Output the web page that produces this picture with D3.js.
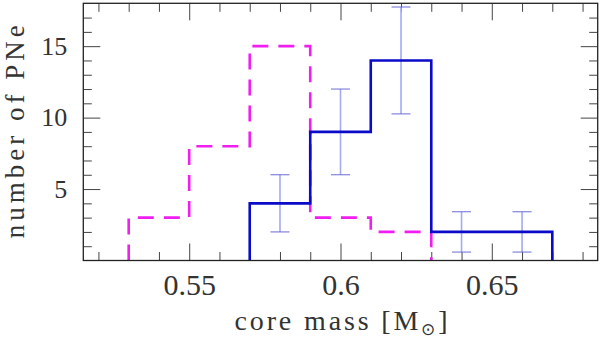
<!DOCTYPE html>
<html lang="en">
<head>
  <meta charset="UTF-8">
  <title>core mass histogram</title>
  <script src="https://d3js.org/d3.v7.min.js"></script>
  <style>
    body { margin: 0; padding: 0; background: #fff; }
    svg { display: block; }
    text { font-family: "Liberation Serif", "Times New Roman", serif; fill: #333; }
    .tick line { stroke: #444; stroke-width: 1; }
  </style>
</head>
<body>
  <svg width="600" height="339"></svg>
  <script>
    // === data ===
    const magentaEdges = [0.53, 0.55, 0.57, 0.59, 0.61, 0.63];
    const magentaCounts = [3, 8, 15, 3, 2];

    const blueEdges = [0.57, 0.59, 0.61, 0.63, 0.65, 0.67];
    const blueCounts = [4, 9, 14, 2, 2];

    const errX = [0.58, 0.60, 0.62, 0.64, 0.66];
    const errLow = [2, 6, 10.26, 0.59, 0.59];
    const errHigh = [6, 12, 17.74, 3.41, 3.41];

    const xMajor = [0.55, 0.6, 0.65];
    const xMajorLabels = ["0.55", "0.6", "0.65"];
    const xMinor = [0.52, 0.53, 0.54, 0.56, 0.57, 0.58, 0.59, 0.61, 0.62, 0.63, 0.64, 0.66, 0.67, 0.68];
    const yMajor = [5, 10, 15];
    const yMinor = [1, 2, 3, 4, 6, 7, 8, 9, 11, 12, 13, 14, 16, 17];

    // === scales ===
    const pLeft = 83.3, pRight = 597.7, pTop = 3.3, pBottom = 260.5;
    const x = d3.scaleLinear().domain([0.515, 0.685]).range([pLeft, pRight]);
    const y = d3.scaleLinear().domain([0, 18]).range([pBottom, pTop]);

    const svg = d3.select("svg");

    // === axes (ticks point inward on all four sides) ===
    function cleanup(g) { g.select(".domain").remove(); }

    svg.append("g").attr("transform", `translate(0,${pBottom})`)
      .call(d3.axisBottom(x).tickValues(xMajor).tickSize(-17).tickPadding(34)
        .tickFormat((d, i) => xMajorLabels[i]))
      .call(cleanup)
      .call(g => g.selectAll("text").attr("font-size", 30).attr("fill", "#333")
        .attr("font-family", "Liberation Serif").attr("dy", 0));
    svg.append("g").attr("transform", `translate(0,${pBottom})`)
      .call(d3.axisBottom(x).tickValues(xMinor).tickSize(-8.5).tickFormat(""))
      .call(cleanup);
    svg.append("g").attr("transform", `translate(0,${pTop})`)
      .call(d3.axisTop(x).tickValues(xMajor).tickSize(-17).tickFormat(""))
      .call(cleanup);
    svg.append("g").attr("transform", `translate(0,${pTop})`)
      .call(d3.axisTop(x).tickValues(xMinor).tickSize(-8.5).tickFormat(""))
      .call(cleanup);

    svg.append("g").attr("transform", `translate(${pLeft},0)`)
      .call(d3.axisLeft(y).tickValues(yMajor).tickSize(-17).tickPadding(16))
      .call(cleanup)
      .call(g => g.selectAll("text").attr("font-size", 26).attr("fill", "#333")
        .attr("font-family", "Liberation Serif"));
    svg.append("g").attr("transform", `translate(${pLeft},0)`)
      .call(d3.axisLeft(y).tickValues(yMinor).tickSize(-8.5).tickFormat(""))
      .call(cleanup);
    svg.append("g").attr("transform", `translate(${pRight},0)`)
      .call(d3.axisRight(y).tickValues(yMajor).tickSize(-17).tickFormat(""))
      .call(cleanup);
    svg.append("g").attr("transform", `translate(${pRight},0)`)
      .call(d3.axisRight(y).tickValues(yMinor).tickSize(-8.5).tickFormat(""))
      .call(cleanup);

    // === error bars ===
    const eb = svg.append("g");
    errX.forEach((v, i) => {
      eb.append("line")
        .attr("x1", x(v)).attr("x2", x(v))
        .attr("y1", y(errLow[i])).attr("y2", y(errHigh[i]))
        .attr("stroke", "#a3aaf2").attr("stroke-width", 1.6);
      [errLow[i], errHigh[i]].forEach(e => {
        eb.append("line")
          .attr("x1", x(v) - 9.5).attr("x2", x(v) + 9.5)
          .attr("y1", y(e)).attr("y2", y(e))
          .attr("stroke", "#6b6bd6").attr("stroke-width", 1);
      });
    });

    // === histograms ===
    function stepPoints(edges, counts) {
      const pts = [[edges[0], 0]];
      counts.forEach((c, i) => { pts.push([edges[i], c]); pts.push([edges[i + 1], c]); });
      pts.push([edges[edges.length - 1], 0]);
      return pts;
    }
    const line = d3.line().x(d => x(d[0])).y(d => y(d[1]));

    svg.append("path")
      .attr("d", line(stepPoints(magentaEdges, magentaCounts)))
      .attr("fill", "none").attr("stroke", "#f01ef0").attr("stroke-width", 2.6)
      .attr("stroke-dasharray", "16,10");

    svg.append("path")
      .attr("d", line(stepPoints(blueEdges, blueCounts)))
      .attr("fill", "none").attr("stroke", "#0a0ac8").attr("stroke-width", 2.6);

    // === frame ===
    svg.append("rect")
      .attr("x", pLeft).attr("y", pTop)
      .attr("width", pRight - pLeft).attr("height", pBottom - pTop)
      .attr("fill", "none").attr("stroke", "#222").attr("stroke-width", 1.3);

    // === axis titles ===
    const xt = svg.append("text")
      .attr("x", 341).attr("y", 329.7)
      .attr("text-anchor", "middle").attr("font-size", 28)
      .attr("textLength", 213).attr("lengthAdjust", "spacing");
    xt.append("tspan").text("core mass [M");
    xt.append("tspan").attr("font-size", 17).attr("dy", 5).text("\u2299");
    xt.append("tspan").attr("dy", -5).text("]");

    svg.append("text")
      .attr("transform", "translate(23.5,131.7) rotate(-90)")
      .attr("text-anchor", "middle").attr("font-size", 27)
      .attr("textLength", 213).attr("lengthAdjust", "spacing")
      .text("number of PNe");
  </script>
</body>
</html>
